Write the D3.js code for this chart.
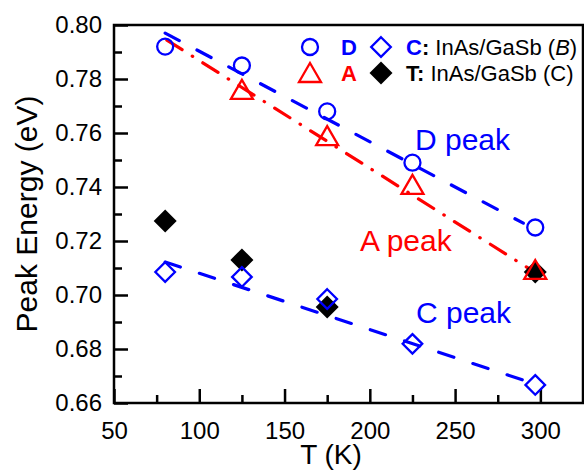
<!DOCTYPE html>
<html>
<head>
<meta charset="utf-8">
<script src="https://cdn.jsdelivr.net/npm/d3@7"></script>
<style>
  html, body { margin: 0; padding: 0; background: #fff; }
  svg { display: block; }
  text { font-family: "Liberation Sans", Arial, sans-serif; }
</style>
</head>
<body>
<svg id="chart" width="584" height="470"></svg>
<script>
// ---------- data ----------
const tempsD = [80, 125, 175, 225, 297];
const peakD  = [0.792, 0.785, 0.768, 0.749, 0.725];
const tempsA = [125, 175, 225, 297];
const peakA  = [0.7756, 0.7585, 0.7404, 0.7089];
const tempsC = [80, 125, 175, 225, 297];
const peakC  = [0.7085, 0.7067, 0.6985, 0.6819, 0.6667];
const tempsT = [80, 125, 175, 297];
const peakT  = [0.7274, 0.7130, 0.6956, 0.7085];
// fitted guide lines (end points)
const fitDT = [80, 290],  fitDE = [0.797, 0.7266];
const fitAT = [81, 297],  fitAE = [0.7944, 0.7083];
const fitCT = [80, 297],  fitCE = [0.7122, 0.6670];
const xTicks = [50, 100, 150, 200, 250, 300];
const xMinor = [75, 125, 175, 225, 275];
const yTicks = [0.66, 0.68, 0.70, 0.72, 0.74, 0.76, 0.78, 0.80];
const yMinor = [0.67, 0.69, 0.71, 0.73, 0.75, 0.77, 0.79];

const BLUE = "#0000ff", RED = "#ff0000", BLACK = "#000";
const svg = d3.select("#chart");
const L = 114, R = 583, T = 25, B = 403;
const x = d3.scaleLinear().domain([50, 325]).range([L, R]);
const y = d3.scaleLinear().domain([0.66, 0.80]).range([B, T]);

// ---------- axes ----------
const gx = svg.append("g").attr("transform", `translate(0,${B})`)
  .call(d3.axisBottom(x).tickValues(xTicks).tickFormat(d3.format("d")).tickSize(-14).tickPadding(19));
const gxm = svg.append("g").attr("transform", `translate(0,${B})`)
  .call(d3.axisBottom(x).tickValues(xMinor).tickFormat("").tickSize(-8));
const gy = svg.append("g").attr("transform", `translate(${L},0)`)
  .call(d3.axisLeft(y).tickValues(yTicks).tickFormat(d3.format(".2f")).tickSize(-14).tickPadding(12));
const gym = svg.append("g").attr("transform", `translate(${L},0)`)
  .call(d3.axisLeft(y).tickValues(yMinor).tickFormat("").tickSize(-8));
[gx, gxm, gy, gym].forEach(g => {
  g.select(".domain").remove();
  g.selectAll(".tick line").attr("stroke", BLACK).attr("stroke-width", 2.5);
  g.selectAll(".tick text").attr("fill", BLACK).style("font-size", "24px")
    .style("font-family", '"Liberation Sans", Arial, sans-serif');
});

svg.append("rect").attr("x", L).attr("y", T).attr("width", R - L).attr("height", B - T)
  .attr("fill", "none").attr("stroke", BLACK).attr("stroke-width", 2.5);

// axis titles
svg.append("text").attr("x", 331).attr("y", 464).attr("text-anchor", "middle")
  .style("font-size", "28px").text("T (K)");
svg.append("text").attr("transform", `translate(37,${(T + B) / 2}) rotate(-90)`)
  .attr("text-anchor", "middle").style("font-size", "30px").text("Peak Energy (eV)");

// ---------- lines ----------
const line = d3.line().x(d => x(d[0])).y(d => y(d[1]));
const plot = svg.append("g");
plot.append("path").datum(d3.zip(fitDT, fitDE)).attr("d", line)
  .attr("fill", "none").attr("stroke", BLUE).attr("stroke-width", 3.2)
  .attr("stroke-dasharray", "16,20").attr("stroke-linecap", "round");
plot.append("path").datum(d3.zip(fitAT, fitAE)).attr("d", line)
  .attr("fill", "none").attr("stroke", RED).attr("stroke-width", 3.2)
  .attr("stroke-dasharray", "18,12,0.5,12").attr("stroke-linecap", "round");
plot.append("path").datum(d3.zip(fitCT, fitCE)).attr("d", line)
  .attr("fill", "none").attr("stroke", BLUE).attr("stroke-width", 3.2)
  .attr("stroke-dasharray", "16,20").attr("stroke-linecap", "round");

// ---------- markers ----------
const diamond = s => `M0,${-s}L${s},0L0,${s}L${-s},0Z`;
const tri = "M0,-11L11,8L-11,8Z";
plot.selectAll(".mT").data(d3.zip(tempsT, peakT)).join("path")
  .attr("transform", d => `translate(${x(d[0])},${y(d[1])})`)
  .attr("d", diamond(11.5)).attr("fill", BLACK);
plot.selectAll(".mC").data(d3.zip(tempsC, peakC)).join("path")
  .attr("transform", d => `translate(${x(d[0])},${y(d[1])})`)
  .attr("d", diamond(9.8)).attr("fill", "none").attr("stroke", BLUE).attr("stroke-width", 2.3);
plot.selectAll(".mD").data(d3.zip(tempsD, peakD)).join("circle")
  .attr("cx", d => x(d[0])).attr("cy", d => y(d[1])).attr("r", 8)
  .attr("fill", "none").attr("stroke", BLUE).attr("stroke-width", 2.3);
plot.selectAll(".mA").data(d3.zip(tempsA, peakA)).join("path")
  .attr("transform", d => `translate(${x(d[0])},${y(d[1])})`)
  .attr("d", tri).attr("fill", "none").attr("stroke", RED).attr("stroke-width", 2.3)
  .attr("stroke-linejoin", "miter");

// ---------- annotations ----------
svg.append("text").attr("x", 415).attr("y", 150).attr("fill", BLUE).style("font-size", "30px").text("D peak");
svg.append("text").attr("x", 360).attr("y", 251).attr("fill", RED).style("font-size", "30px").text("A peak");
svg.append("text").attr("x", 416).attr("y", 323).attr("fill", BLUE).style("font-size", "30px").text("C peak");

// ---------- legend ----------
const lg = svg.append("g").style("font-size", "22px");
const r1 = 47, r2 = 73;
lg.append("circle").attr("cx", 310).attr("cy", r1).attr("r", 8)
  .attr("fill", "none").attr("stroke", BLUE).attr("stroke-width", 2.3);
lg.append("path").attr("transform", `translate(310,${r2 + 1})`).attr("d", tri)
  .attr("fill", "none").attr("stroke", RED).attr("stroke-width", 2.3);
lg.append("text").attr("x", 349).attr("y", r1 + 8).attr("text-anchor", "middle")
  .attr("fill", BLUE).style("font-weight", "bold").text("D");
lg.append("text").attr("x", 349).attr("y", r2 + 8).attr("text-anchor", "middle")
  .attr("fill", RED).style("font-weight", "bold").text("A");
lg.append("path").attr("transform", `translate(381,${r1})`).attr("d", diamond(9.8))
  .attr("fill", "none").attr("stroke", BLUE).attr("stroke-width", 2.3);
lg.append("path").attr("transform", `translate(381,${r2})`).attr("d", diamond(11.5)).attr("fill", BLACK);
const t1 = lg.append("text").attr("x", 406).attr("y", r1 + 8);
t1.append("tspan").attr("fill", BLUE).style("font-weight", "bold").text("C");
t1.append("tspan").attr("fill", BLACK).style("font-weight", "bold").text(":");
t1.append("tspan").attr("fill", BLACK).text(" InAs/GaSb (");
t1.append("tspan").attr("fill", BLACK).style("font-style", "italic").text("B");
t1.append("tspan").attr("fill", BLACK).text(")");
const t2 = lg.append("text").attr("x", 406).attr("y", r2 + 8);
t2.append("tspan").attr("fill", BLACK).style("font-weight", "bold").text("T:");
t2.append("tspan").attr("fill", BLACK).text(" InAs/GaSb (C)");
</script>
</body>
</html>
